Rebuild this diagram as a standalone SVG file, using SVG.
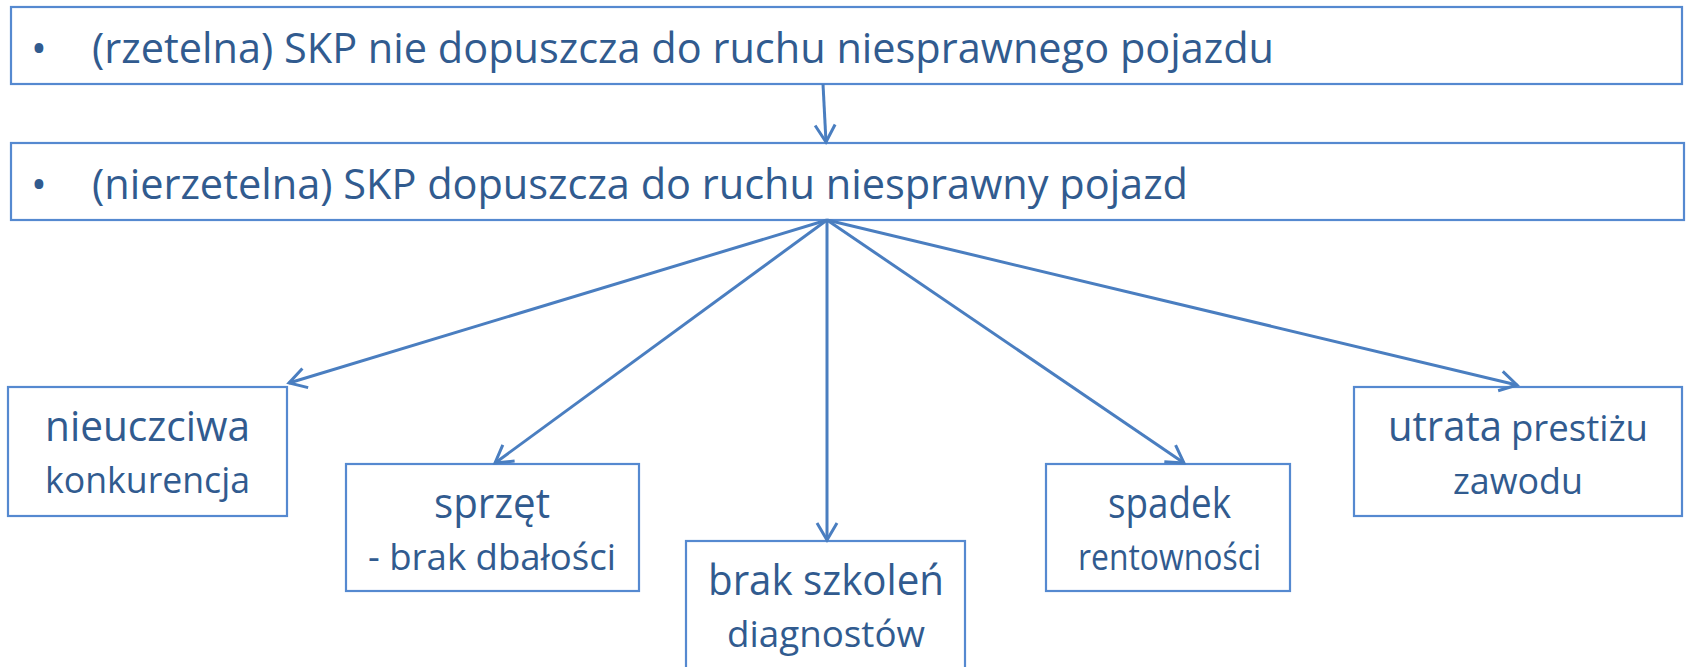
<svg xmlns="http://www.w3.org/2000/svg" width="1686" height="667" viewBox="0 0 1686 667">
<style>
.box{fill:#ffffff;stroke:#5589D0;stroke-width:2.2}
.t{font-family:"Open Sans","Liberation Sans",sans-serif;fill:#315B8F}
.big{font-size:42px}
.sm{font-size:37px}
.conn{stroke:#4A7EC0;stroke-width:3;fill:none}
</style>
<defs>
<marker id="arr" markerUnits="userSpaceOnUse" viewBox="-22 -13 26 26" refX="0" refY="0" markerWidth="26" markerHeight="26" orient="auto">
<path d="M-17,-10 L0,0 L-17,10" fill="none" stroke="#4A7EC0" stroke-width="3" stroke-linejoin="miter"/>
</marker>
</defs>
<rect width="1686" height="667" fill="#ffffff"/>
<g id="n-top">
<rect class="box" x="11" y="7" width="1671" height="77"/>
<text class="t big" x="39" y="63" text-anchor="middle">•</text>
<text class="t big" x="92" y="63" textLength="1182" lengthAdjust="spacingAndGlyphs">(rzetelna) SKP nie dopuszcza do ruchu niesprawnego pojazdu</text>
</g>
<g id="n-second">
<rect class="box" x="11" y="143" width="1673" height="77"/>
<text class="t big" x="39" y="199" text-anchor="middle">•</text>
<text class="t big" x="92" y="199" textLength="1096" lengthAdjust="spacingAndGlyphs">(nierzetelna) SKP dopuszcza do ruchu niesprawny pojazd</text>
</g>
<g id="n-nieuczciwa">
<rect class="box" x="8" y="387" width="279" height="129"/>
<text class="t big" x="45" y="441" textLength="205" lengthAdjust="spacingAndGlyphs">nieuczciwa</text>
<text class="t sm" x="45" y="493" textLength="205" lengthAdjust="spacingAndGlyphs">konkurencja</text>
</g>
<g id="n-sprzet">
<rect class="box" x="346" y="464" width="293" height="127"/>
<text class="t big" x="434" y="518" textLength="116" lengthAdjust="spacingAndGlyphs">sprzęt</text>
<text class="t sm" x="368" y="570" textLength="248" lengthAdjust="spacingAndGlyphs">- brak dbałości</text>
</g>
<g id="n-brak">
<rect class="box" x="686" y="541" width="279" height="150"/>
<text class="t big" x="708" y="595" textLength="236" lengthAdjust="spacingAndGlyphs">brak szkoleń</text>
<text class="t sm" x="727" y="647" textLength="198" lengthAdjust="spacingAndGlyphs">diagnostów</text>
</g>
<g id="n-spadek">
<rect class="box" x="1046" y="464" width="244" height="127"/>
<text class="t big" x="1108" y="518" textLength="123" lengthAdjust="spacingAndGlyphs">spadek</text>
<text class="t sm" x="1078" y="570" textLength="183" lengthAdjust="spacingAndGlyphs">rentowności</text>
</g>
<g id="n-utrata">
<rect class="box" x="1354" y="387" width="328" height="129"/>
<text class="t big" y="441"><tspan x="1388" textLength="114" lengthAdjust="spacingAndGlyphs">utrata</tspan><tspan class="sm" x="1511" textLength="137" lengthAdjust="spacingAndGlyphs">prestiżu</tspan></text>
<text class="t sm" x="1453" y="494" textLength="130" lengthAdjust="spacingAndGlyphs">zawodu</text>
</g>
<g id="connectors">
<line class="conn" x1="823" y1="84" x2="826" y2="142" marker-end="url(#arr)"/>
<line class="conn" x1="827" y1="220" x2="289" y2="383" marker-end="url(#arr)"/>
<line class="conn" x1="827" y1="220" x2="495" y2="463" marker-end="url(#arr)"/>
<line class="conn" x1="827" y1="220" x2="827" y2="540" marker-end="url(#arr)"/>
<line class="conn" x1="827" y1="220" x2="1184" y2="463" marker-end="url(#arr)"/>
<line class="conn" x1="827" y1="220" x2="1517" y2="385" marker-end="url(#arr)"/>
</g>
</svg>
